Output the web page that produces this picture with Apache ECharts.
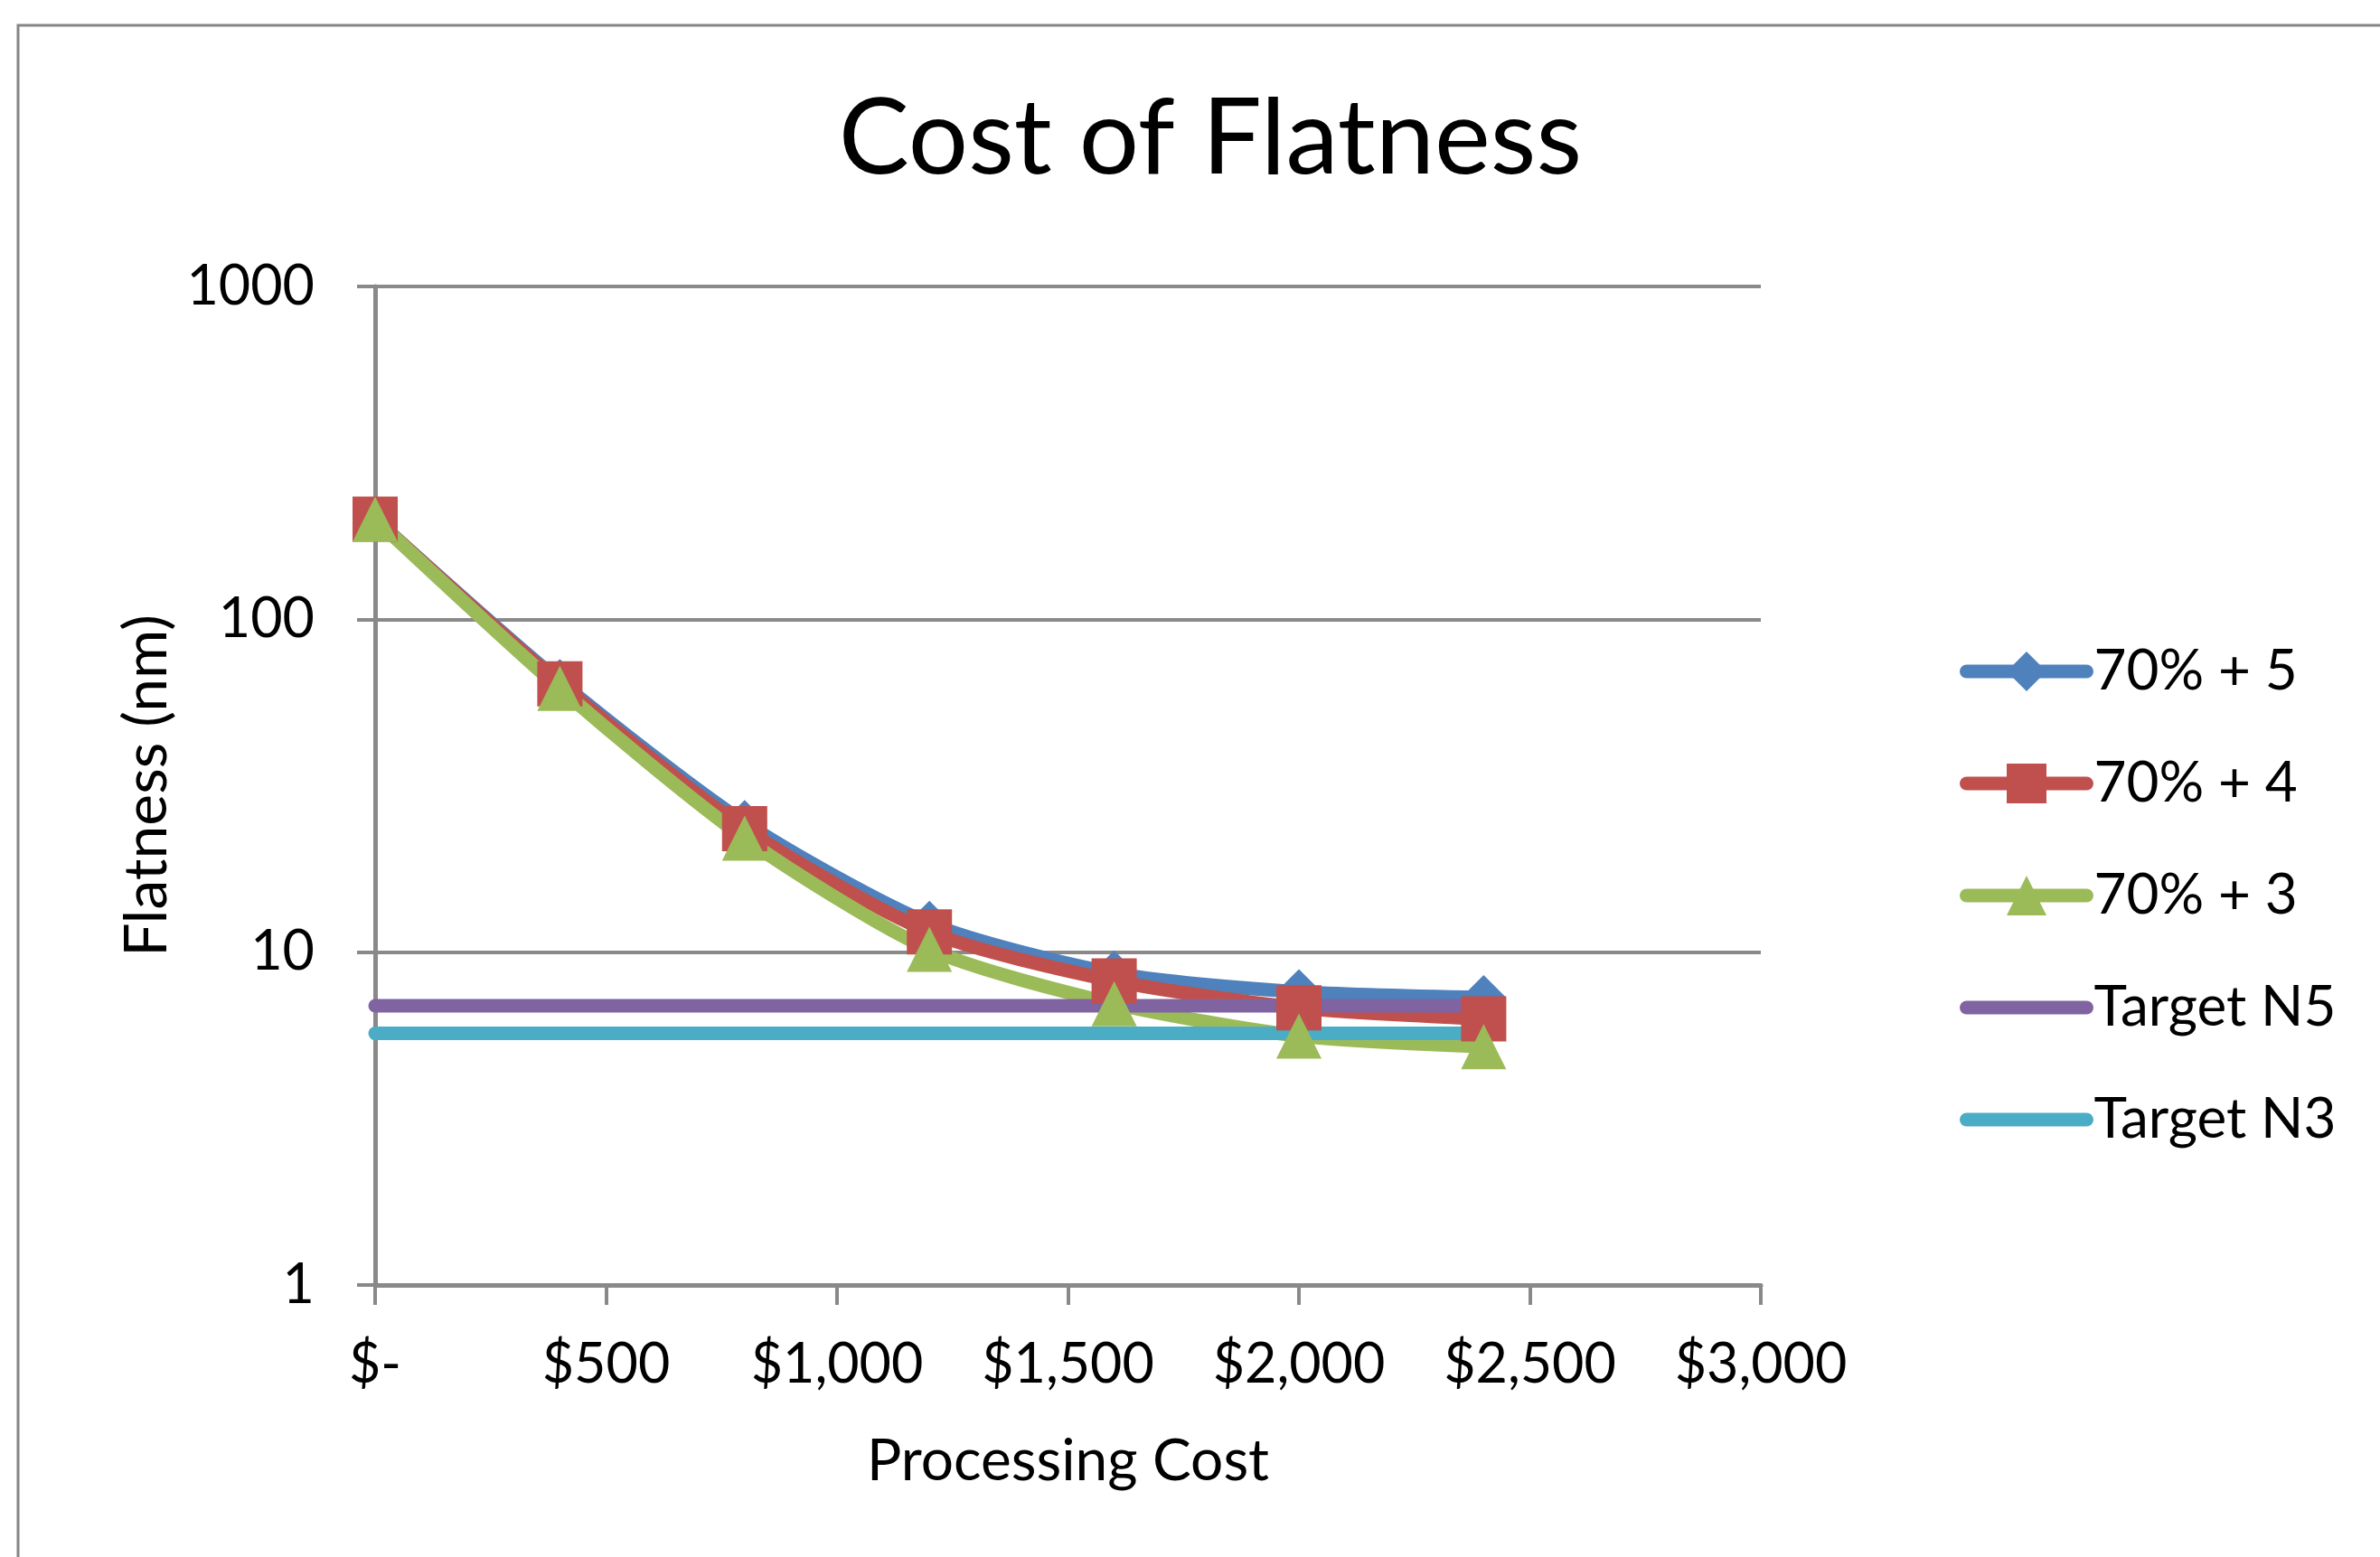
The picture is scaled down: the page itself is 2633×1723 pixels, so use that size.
<!DOCTYPE html>
<html>
<head>
<meta charset="utf-8">
<title>Cost of Flatness</title>
<script src="https://cdn.jsdelivr.net/npm/echarts@6/dist/echarts.min.js"></script>
<style>
  html, body { margin: 0; padding: 0; background: #fff; }
  #chart { width: 2633px; height: 1723px; }
</style>
</head>
<body>
<div id="chart"></div>
<script>
// values
const costs = [0, 400, 800, 1200, 1600, 2000, 2400];
const plus5 = [200, 65, 24.5, 12.2, 8.65, 7.6, 7.3];
const plus4 = [200, 64, 23.5, 11.5, 8.2, 6.8, 6.3];
const plus3 = [200, 62, 22, 10.2, 7.0, 5.6, 5.2];
const targetN5 = [6.9, 6.9, 6.9, 6.9, 6.9, 6.9, 6.9];
const targetN3 = [5.7, 5.7, 5.7, 5.7, 5.7, 5.7, 5.7];
const xTickLabels = ['$-', '$500', '$1,000', '$1,500', '$2,000', '$2,500', '$3,000'];
const yTickLabels = { 1: '1', 10: '10', 100: '100', 1000: '1000' };

const FONT = "Lato, 'Liberation Sans', sans-serif";
const GRAY = '#898989';
const AXIS_FONT = 61;

const pairs = (ys) => costs.map((c, i) => [c, ys[i]]);

const chart = echarts.init(document.getElementById('chart'));

const lineSeries = (name, ys, color, symbol) => ({
  name,
  type: 'line',
  data: pairs(ys),
  smooth: 0.25,
  symbol,
  symbolSize: 50,
  showSymbol: symbol !== 'none',
  lineStyle: { width: 15, color, cap: 'round', join: 'round' },
  itemStyle: { color },
  emphasis: { disabled: true },
  animation: false,
});

chart.setOption({
  backgroundColor: '#fff',
  textStyle: { fontFamily: FONT, color: '#000' },
  graphic: [{
    type: 'rect',
    shape: { x: 20, y: 28, width: 3000, height: 3000 },
    style: { fill: 'none', stroke: '#868686', lineWidth: 3 },
    silent: true,
  }],
  title: {
    text: 'Cost of Flatness',
    left: 1339,
    textAlign: 'center',
    top: 96,
    padding: 0,
    textStyle: { fontFamily: FONT, fontSize: 117, fontWeight: 'normal', color: '#000' },
  },
  grid: {
    left: 415,
    right: 685,
    top: 317,
    bottom: 301,
    containLabel: false,
    outerBoundsMode: 'none',
  },
  legend: {
    orient: 'vertical',
    left: 2168,
    top: 712,
    padding: 0,
    itemWidth: 133,
    itemHeight: 55,
    itemGap: 62,
    lineStyle: { width: 15, cap: 'round' },
    textStyle: { fontFamily: FONT, fontSize: 62, color: '#000', padding: [0, 0, 0, 3] },
    data: [
      '70% + 5',
      '70% + 4',
      '70% + 3',
      { name: 'Target N5', itemStyle: { opacity: 0 } },
      { name: 'Target N3', itemStyle: { opacity: 0 } },
    ],
  },
  xAxis: {
    type: 'value',
    min: 0,
    max: 3000,
    interval: 500,
    name: 'Processing Cost',
    nameLocation: 'middle',
    nameGap: 163,
    nameTextStyle: { fontFamily: FONT, fontSize: 64, color: '#000' },
    axisLine: { show: true, lineStyle: { color: GRAY, width: 5 } },
    axisTick: { show: true, inside: false, length: 22, lineStyle: { color: GRAY, width: 4 } },
    axisLabel: {
      margin: 58,
      fontFamily: FONT,
      fontSize: AXIS_FONT,
      color: '#000',
      formatter: (v) => xTickLabels[Math.round(v / 500)],
    },
    splitLine: { show: false },
  },
  yAxis: {
    type: 'log',
    logBase: 10,
    min: 1,
    max: 1000,
    name: 'Flatness (nm)',
    nameLocation: 'middle',
    nameRotate: 90,
    nameGap: 206,
    nameTextStyle: { fontFamily: FONT, fontSize: 66, color: '#000' },
    axisLine: { show: true, lineStyle: { color: GRAY, width: 5 } },
    axisTick: { show: true, inside: false, length: 20, lineStyle: { color: GRAY, width: 4 } },
    axisLabel: {
      margin: 67,
      fontFamily: FONT,
      fontSize: AXIS_FONT,
      color: '#000',
      formatter: (v) => yTickLabels[Math.round(v)] || String(Math.round(v)),
    },
    splitLine: { show: true, lineStyle: { color: GRAY, width: 4 } },
    minorTick: { show: false },
  },
  series: [
    lineSeries('70% + 5', plus5, '#4F81BD', 'diamond'),
    lineSeries('70% + 4', plus4, '#C0504D', 'rect'),
    lineSeries('70% + 3', plus3, '#9BBB59', 'triangle'),
    lineSeries('Target N5', targetN5, '#8064A2', 'none'),
    lineSeries('Target N3', targetN3, '#4BACC6', 'none'),
  ],
});
</script>
</body>
</html>
